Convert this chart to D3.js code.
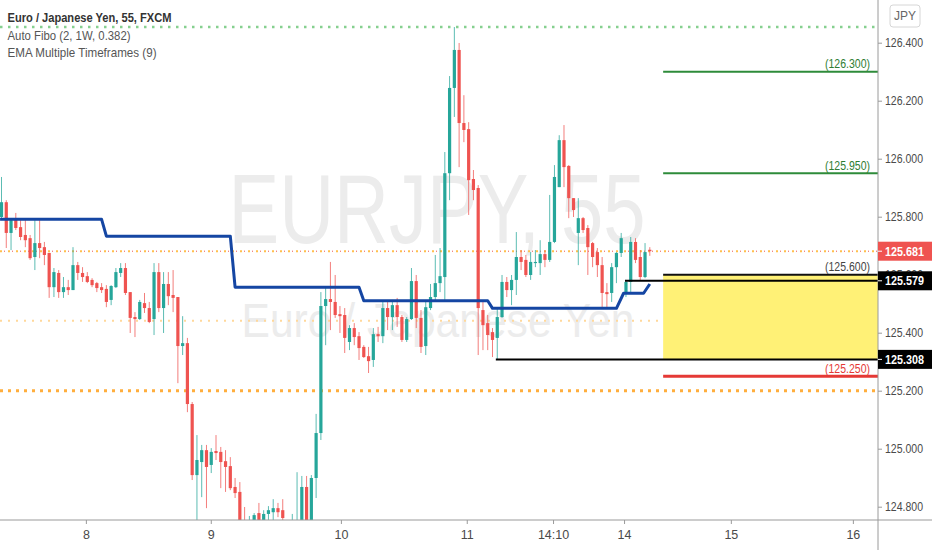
<!DOCTYPE html>
<html>
<head>
<meta charset="utf-8">
<script src="https://cdn.jsdelivr.net/npm/d3@7"></script>
<style>
	body { margin: 0; background: #fff; }
	svg { display: block; }
</style>
</head>
<body>
<svg width="932" height="550"></svg>
<script>
// candles, one per 55 min bar, index = position in the arrays
const opens = [125.799,125.850,125.744,125.795,125.764,125.737,125.726,125.661,125.709,125.695,
	125.675,125.557,125.606,125.540,125.557,125.547,125.633,125.606,125.595,125.582,
	125.571,125.557,125.551,125.513,125.557,125.606,125.623,125.540,125.454,125.447,
	125.502,125.485,125.447,125.609,125.485,125.568,125.530,125.523,125.354,125.364,
	125.154,124.909,124.954,124.995,124.944,124.992,124.989,124.957,124.940,124.868,
	124.851,124.737,124.685,124.720,124.778,124.737,124.775,124.781,124.795,124.788,
	124.745,124.720,124.700,124.730,124.868,124.730,124.899,125.054,125.492,125.516,
	125.506,125.464,125.461,125.368,125.416,125.388,125.351,125.319,125.306,125.395,
	125.388,125.485,125.454,125.495,125.454,125.375,125.447,125.578,125.451,125.354,
	125.485,125.523,125.571,125.592,125.950,126.244,126.375,126.123,126.102,125.930,
	125.899,125.478,125.433,125.402,125.382,125.454,125.575,125.547,125.582,125.661,
	125.651,125.599,125.640,125.640,125.671,125.651,125.713,125.902,126.064,125.975,
	125.864,125.744,125.795,125.761,125.709,125.678,125.633,125.540,125.537,125.626,
	125.675,125.540,125.575,125.713,125.661,125.592,125.686];
const highs = [125.937,125.857,125.795,125.813,125.788,125.788,125.737,125.788,125.788,125.713,
	125.675,125.623,125.616,125.592,125.582,125.695,125.644,125.626,125.609,125.588,
	125.575,125.571,125.564,125.564,125.623,125.640,125.640,125.540,125.471,125.513,
	125.537,125.506,125.640,125.640,125.609,125.609,125.616,125.523,125.457,125.382,
	125.161,125.047,125.013,125.013,125.002,125.047,125.006,124.995,124.971,124.899,
	124.885,124.799,124.768,124.778,124.813,124.788,124.802,124.826,124.813,124.826,
	124.750,124.775,124.919,124.906,124.906,124.909,125.120,125.540,125.554,125.644,
	125.599,125.492,125.485,125.426,125.433,125.402,125.357,125.351,125.416,125.420,
	125.506,125.506,125.513,125.520,125.461,125.454,125.623,125.599,125.478,125.513,
	125.568,125.668,125.692,126.023,126.285,126.454,126.399,126.219,126.126,125.961,
	125.909,125.506,125.461,125.416,125.488,125.599,125.592,125.599,125.747,125.685,
	125.668,125.678,125.685,125.719,125.685,125.875,125.978,126.081,126.116,125.978,
	125.864,125.864,125.799,125.771,125.713,125.692,125.661,125.571,125.640,125.678,
	125.744,125.582,125.730,125.726,125.685,125.709,125.695];
const lows = [125.795,125.692,125.685,125.754,125.719,125.695,125.651,125.616,125.657,125.633,
	125.520,125.523,125.520,125.520,125.530,125.547,125.582,125.575,125.571,125.557,
	125.540,125.537,125.488,125.495,125.554,125.592,125.530,125.399,125.385,125.444,
	125.468,125.433,125.392,125.471,125.399,125.495,125.471,125.226,125.323,125.126,
	124.892,124.740,124.833,124.795,124.916,124.961,124.864,124.851,124.857,124.830,
	124.720,124.668,124.668,124.702,124.720,124.720,124.737,124.747,124.764,124.737,
	124.690,124.702,124.690,124.700,124.710,124.715,124.830,125.030,125.357,125.409,
	125.451,125.399,125.330,125.340,125.357,125.306,125.313,125.261,125.282,125.368,
	125.364,125.409,125.409,125.420,125.368,125.368,125.444,125.416,125.330,125.323,
	125.478,125.513,125.540,125.513,125.857,126.144,125.971,126.057,125.806,125.857,
	125.323,125.340,125.340,125.316,125.308,125.451,125.523,125.495,125.530,125.616,
	125.592,125.582,125.626,125.599,125.626,125.644,125.709,125.902,125.902,125.795,
	125.799,125.633,125.744,125.599,125.626,125.592,125.488,125.488,125.506,125.571,
	125.661,125.523,125.537,125.640,125.582,125.588,125.665];
const closes = [125.850,125.744,125.788,125.761,125.730,125.719,125.657,125.709,125.692,125.668,
	125.557,125.609,125.540,125.557,125.547,125.633,125.606,125.592,125.575,125.564,
	125.554,125.547,125.506,125.561,125.609,125.623,125.537,125.451,125.447,125.506,
	125.485,125.437,125.609,125.485,125.568,125.526,125.520,125.354,125.364,125.154,
	124.909,124.961,124.995,124.937,124.989,124.985,124.954,124.937,124.864,124.847,
	124.737,124.702,124.720,124.771,124.754,124.775,124.788,124.795,124.781,124.761,
	124.715,124.745,124.740,124.868,124.730,124.899,125.054,125.492,125.516,125.506,
	125.461,125.457,125.382,125.416,125.385,125.347,125.316,125.302,125.395,125.388,
	125.485,125.454,125.495,125.454,125.375,125.447,125.578,125.451,125.351,125.488,
	125.523,125.571,125.595,125.950,126.244,126.375,126.123,126.099,125.926,125.892,
	125.485,125.426,125.392,125.375,125.454,125.575,125.547,125.582,125.661,125.644,
	125.599,125.644,125.644,125.671,125.651,125.713,125.937,126.064,125.971,125.864,
	125.823,125.795,125.754,125.695,125.661,125.633,125.537,125.533,125.626,125.675,
	125.726,125.575,125.713,125.651,125.592,125.678,125.681];

// EMA Multiple Timeframes (higher timeframe, so it steps once a day)
const emaBars = [-0.3, 21, 22, 48, 49, 75, 76, 102, 103, 129, 130.5, 134.7, 136];
const emaValues = [125.791, 125.791, 125.733, 125.733, 125.557, 125.557, 125.510, 125.510,
	125.484, 125.484, 125.536, 125.536, 125.568];

// axes
const priceTicks = [126.4, 126.2, 126.0, 125.8, 125.6, 125.4, 125.2, 125.0, 124.8];
const timeTicks = [17.7, 43.9, 71.2, 97.6, 115.7, 130.6, 153, 178.6];
const timeLabels = ["8", "9", "10", "11", "14:10", "14", "15", "16"];

// Auto Fibo levels, drawn to the right of the last bar
const fibLevels = [126.300, 125.950, 125.600, 125.250];
const fibStartBar = 138.8;
const zoneTop = 125.600;
const zoneBottom = 125.308;

// black swing lines and their start bars
const swingLevels = [125.579, 125.308];
const swingStartBars = [130.8, 103.7];

// dotted horizontal lines across the pane
const dottedLevels = [126.454, 125.441, 125.200];
const lastPrice = 125.681;


const FONT = '"Liberation Sans Narrow", "Liberation Sans", Arial, sans-serif';
const UP = "#26a69a";
const DOWN = "#ef5350";
const plotRight = 878;
const plotBottom = 520;

const svg = d3.select("svg").attr("font-family", FONT);

const x = d3.scaleLinear().domain([0, 136]).range([1.5, 649.8]);
const y = d3.scaleLinear().domain([124.8, 126.4]).range([506.7, 42.7]);

const lastBar = x.invert(plotRight);

class Level {
	constructor(price, fromBar) {
		this.price = price;
		this.fromBar = fromBar;
		this.stroke = {color: "black", width: 2, dash: null};
	}

	createSVG(parent) {
		this.svg = parent.append("line")
		this.updateSVG()
		return this
	}

	updateSVG() {
		this.svg
			.attr("x1", x(this.fromBar))
			.attr("x2", x(lastBar))
			.attr("y1", y(this.price))
			.attr("y2", y(this.price))
			.attr("stroke", this.stroke.color)
			.attr("stroke-width", this.stroke.width)
			.attr("stroke-dasharray", this.stroke.dash)
	}
}

// watermark
svg.append("text")
	.attr("x", 437).attr("y", 243)
	.attr("text-anchor", "middle")
	.attr("font-size", 98)
	.attr("fill", "#ececec")
	.attr("textLength", 417).attr("lengthAdjust", "spacingAndGlyphs")
	.text("EURJPY, 55");
svg.append("text")
	.attr("x", 438).attr("y", 337)
	.attr("text-anchor", "middle")
	.attr("font-size", 48)
	.attr("fill", "#ececec")
	.attr("textLength", 393).attr("lengthAdjust", "spacingAndGlyphs")
	.text("Euro / Japanese Yen");

svg.append("clipPath").attr("id", "pane")
	.append("rect").attr("width", plotRight).attr("height", plotBottom);
const pane = svg.append("g").attr("clip-path", "url(#pane)");

// dotted lines
const dotStyles = [
	{color: "#86d08f", width: 2.5, dash: "2.5,5.5"},
	{color: "#ffd89a", width: 2, dash: "2,6"},
	{color: "#ffae3d", width: 3, dash: "3,5"}
];
dottedLevels.forEach((p, i) => {
	let l = new Level(p, x.invert(0));
	l.stroke = dotStyles[i];
	l.createSVG(pane);
});
// last price line: orange dots with red in between
let lp = new Level(lastPrice, x.invert(0));
lp.stroke = {color: "#ffc04d", width: 2, dash: "2,6"};
lp.createSVG(pane);
lp = new Level(lastPrice, x.invert(0));
lp.stroke = {color: DOWN, width: 1, dash: "1,7"};
lp.createSVG(pane).svg.attr("stroke-dashoffset", -4);

// fibo zone
pane.append("rect")
	.attr("x", x(fibStartBar))
	.attr("width", x(lastBar) - x(fibStartBar))
	.attr("y", y(zoneTop))
	.attr("height", y(zoneBottom) - y(zoneTop))
	.attr("fill", "#fff176");

// candles
const candles = opens.map((o, i) => ({i: i, o: o, h: highs[i], l: lows[i], c: closes[i]}));
const cg = pane.append("g");
cg.selectAll("line.wick").data(candles).join("line")
	.attr("class", "wick")
	.attr("x1", d => x(d.i)).attr("x2", d => x(d.i))
	.attr("y1", d => y(d.h)).attr("y2", d => y(d.l))
	.attr("stroke", d => d.c >= d.o ? UP : DOWN)
	.attr("stroke-opacity", 0.75)
	.attr("stroke-width", 1);
cg.selectAll("rect.body").data(candles).join("rect")
	.attr("class", "body")
	.attr("x", d => x(d.i) - 1.6)
	.attr("width", 3.2)
	.attr("y", d => y(Math.max(d.o, d.c)))
	.attr("height", d => Math.max(1, Math.abs(y(d.o) - y(d.c))))
	.attr("fill", d => d.c >= d.o ? UP : DOWN);

// ema
pane.append("path")
	.datum(emaBars.map((b, i) => [b, emaValues[i]]))
	.attr("d", d3.line().x(d => x(d[0])).y(d => y(d[1])))
	.attr("fill", "none")
	.attr("stroke", "#1546a3")
	.attr("stroke-width", 3)
	.attr("stroke-linejoin", "round");

// fib lines + labels
const fibColors = ["#2e8b3a", "#2e8b3a", "#111", "#e53935"];
const fibTextColors = ["#2e7d32", "#2e7d32", "#444", "#e53935"];
fibLevels.forEach((p, i) => {
	let l = new Level(p, fibStartBar);
	l.stroke = {color: fibColors[i], width: i == 3 ? 3 : 2, dash: null};
	l.createSVG(pane);
	pane.append("text")
		.attr("x", 870)
		.attr("y", y(p) - 3.5)
		.attr("text-anchor", "end")
		.attr("font-size", 12.5)
		.attr("fill", fibTextColors[i])
		.attr("textLength", 45).attr("lengthAdjust", "spacingAndGlyphs")
		.text("(" + d3.format(".3f")(p) + ")");
});

swingLevels.forEach((p, i) => {
	new Level(p, swingStartBars[i]).createSVG(pane);
});

// price scale
svg.append("line")
	.attr("x1", plotRight).attr("x2", plotRight)
	.attr("y1", 0).attr("y2", 550)
	.attr("stroke", "#9a9a9a");
const yAxis = svg.append("g")
	.attr("transform", `translate(${plotRight},0)`)
	.call(d3.axisRight(y).tickValues(priceTicks).tickFormat(d3.format(".3f")).tickSize(4).tickPadding(3));
yAxis.select(".domain").remove();
yAxis.selectAll("line").attr("stroke", "#9a9a9a");
yAxis.selectAll("text")
	.attr("font-family", FONT)
	.attr("font-size", 12.5)
	.attr("fill", "#4a4a4a")
	.attr("textLength", 38).attr("lengthAdjust", "spacingAndGlyphs");

// time scale
svg.append("line")
	.attr("x1", 0).attr("x2", 932)
	.attr("y1", plotBottom).attr("y2", plotBottom)
	.attr("stroke", "#9a9a9a");
const xAxis = svg.append("g")
	.attr("transform", `translate(0,${plotBottom})`)
	.call(d3.axisBottom(x).tickValues(timeTicks).tickFormat((d, i) => timeLabels[i]).tickSize(4).tickPadding(6));
xAxis.select(".domain").remove();
xAxis.selectAll("line").attr("stroke", "#9a9a9a");
xAxis.selectAll("text")
	.attr("font-family", FONT)
	.attr("font-size", 12.5)
	.attr("fill", "#4a4a4a");

// price labels on the scale
const tags = [
	{p: lastPrice, bg: DOWN},
	{p: swingLevels[0], bg: "#000"},
	{p: swingLevels[1], bg: "#000"}
];
tags.forEach(t => {
	svg.append("rect")
		.attr("x", plotRight).attr("width", 932 - plotRight)
		.attr("y", y(t.p) - 9.5).attr("height", 19)
		.attr("fill", t.bg);
	svg.append("line")
		.attr("x1", plotRight).attr("x2", plotRight + 4)
		.attr("y1", y(t.p)).attr("y2", y(t.p))
		.attr("stroke", "#fff");
	svg.append("text")
		.attr("x", 885).attr("y", y(t.p))
		.attr("dy", "0.35em")
		.attr("font-size", 12.5)
		.attr("font-weight", "bold")
		.attr("fill", "#fff")
		.attr("textLength", 39).attr("lengthAdjust", "spacingAndGlyphs")
		.text(d3.format(".3f")(t.p));
});

// currency badge
svg.append("rect")
	.attr("x", 890).attr("y", 5).attr("width", 30).attr("height", 22)
	.attr("rx", 3)
	.attr("fill", "#fff").attr("stroke", "#d6d6d6");
svg.append("text")
	.attr("x", 905).attr("y", 16).attr("dy", "0.35em")
	.attr("text-anchor", "middle")
	.attr("font-size", 12).attr("fill", "#666")
	.text("JPY");

// legend
const legend = [
	{t: "Euro / Japanese Yen, 55, FXCM", y: 17.5, w: 164, bold: true},
	{t: "Auto Fibo (2, 1W, 0.382)", y: 35, w: 123, bold: false},
	{t: "EMA Multiple Timeframes (9)", y: 52, w: 149, bold: false}
];
legend.forEach(l => {
	svg.append("text")
		.attr("x", 7.5).attr("y", l.y).attr("dy", "0.35em")
		.attr("font-size", 13)
		.attr("font-weight", l.bold ? "bold" : "normal")
		.attr("fill", l.bold ? "#333" : "#555")
		.attr("textLength", l.w).attr("lengthAdjust", "spacingAndGlyphs")
		.text(l.t);
});
</script>
</body>
</html>
